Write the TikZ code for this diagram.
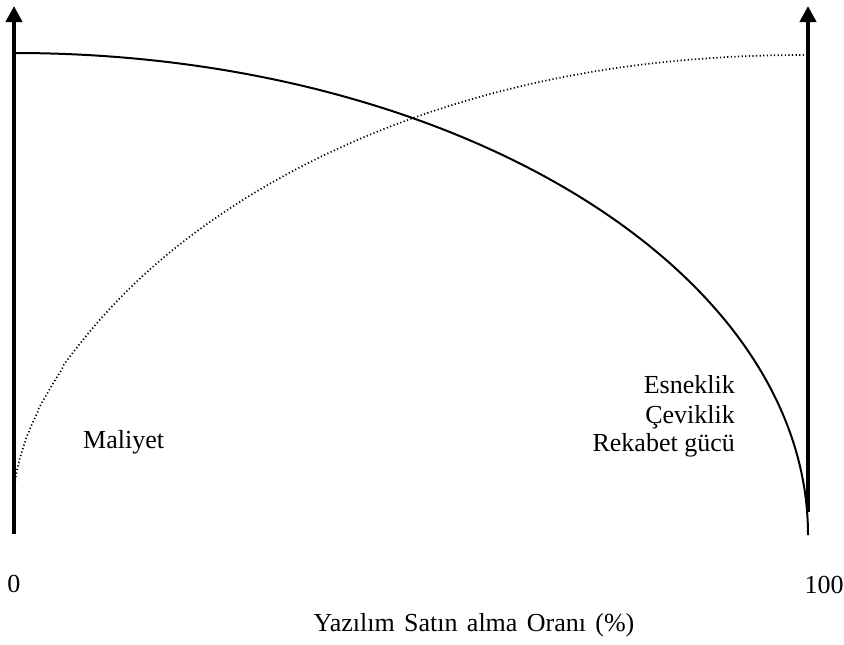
\documentclass[tikz,border=0pt]{standalone}
\usepackage{fontspec}
\setmainfont{Liberation Serif}
\usetikzlibrary{arrows.meta}
\begin{document}
\begin{tikzpicture}[x=1pt,y=-1pt,
  axisline/.style={line width=4pt,-{Triangle[length=16pt,width=16pt]}},
  costcurve/.style={line width=2pt},
  benefitcurve/.style={line width=1.7pt,dash pattern=on 1.2pt off 2.4pt},
  lbl/.style={inner sep=0pt,font=\fontsize{26}{30}\selectfont}]
\useasboundingbox (0,0) rectangle (844,645);

% axes
\coordinate (l0) at (14,534);
\coordinate (l1) at (14,6);
\coordinate (r0) at (808,512);
\coordinate (r1) at (808,6);
\draw[axisline] (l0) -- (l1);
\draw[axisline] (r0) -- (r1);

% cost curve: quarter ellipse falling to the right
\coordinate (c0) at (14,53);
\draw[costcurve] (c0) arc[start angle=90,end angle=0,x radius=794pt,y radius=482pt];

% benefit curve: rising, flattening towards the right
\coordinate (b0) at (14,495);
\coordinate (b1) at (808,55);
\draw[benefitcurve] (b0) --
  plot[domain=0.01:0.9999,samples=220,variable=\s]
   ({14+794*\s*\s},{495-440*exp(0.6*ln(1-exp(2.12*ln(1-\s*\s))))})
  -- (b1);

% labels
\node[lbl,anchor=base west] (maliyet) at (83,448) {Maliyet};
\node[lbl,anchor=base east] (esn) at (735,393) {Esneklik};
\node[lbl,anchor=base east] (cev) at (735,423) {Çeviklik};
\node[lbl,anchor=base east] (rek) at (735,451) {Rekabet gücü};
\node[lbl,anchor=base] (zero) at (14,592) {0};
\node[lbl,anchor=base] (hundred) at (824,593) {100};
\node[lbl,anchor=base] (xlabel) at (474,631) {\spaceskip=0.36em Yazılım Satın alma Oranı (\%)};
\end{tikzpicture}
\end{document}
